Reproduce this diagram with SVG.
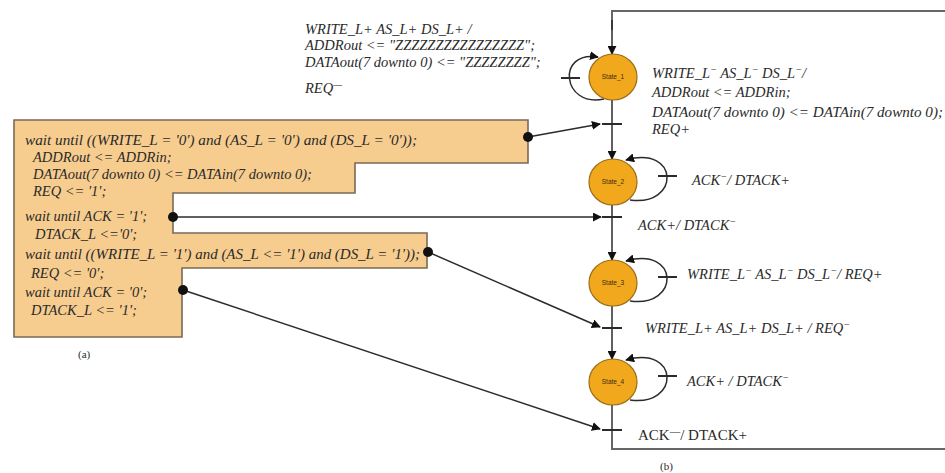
<svg xmlns="http://www.w3.org/2000/svg" width="945" height="473" viewBox="0 0 945 473">
  <style>
    .t { font-family: "Liberation Serif", "Times New Roman", serif; font-style: italic; font-size: 14.5px; fill: #2a2a2a; }
    .u { font-family: "Liberation Serif", "Times New Roman", serif; font-size: 15px; fill: #2a2a2a; }
    .cap { font-family: "Liberation Serif", "Times New Roman", serif; font-size: 11px; fill: #2a2a2a; }
    .st { font-family: "Liberation Sans", Arial, sans-serif; font-size: 6.5px; fill: #3a2a10; text-anchor: middle; }
    .state { fill: #f2a81c; stroke: #9a6d18; stroke-width: 1.2; }
    .code { fill: #f7cd8f; stroke: #7a6a55; stroke-width: 1.6; }
    .ln { fill: none; stroke: #2b2b2b; stroke-width: 1.5; }
    .frame { fill: none; stroke: #666; stroke-width: 2; }
    .tick { stroke: #2b2b2b; stroke-width: 2; }
    .dot { fill: #111; }
    .sup { font-size: 70%; }
  </style>
  <defs>
    <marker id="arr" viewBox="0 0 10 10" refX="9" refY="5" markerWidth="9" markerHeight="9" markerUnits="userSpaceOnUse" orient="auto">
      <path d="M0,0 L10,5 L0,10 z" fill="#111"/>
    </marker>
  </defs>

  <rect width="945" height="473" fill="#fff"/>

  <!-- (a) VHDL process -->
  <g id="code-block">
    <polygon class="code" points="14,120 528,120 528,163 355,163 355,193 173,193 173,233 427,233 427,268 182,268 182,337 14,337"/>
    <text class="t" x="25" y="145" textLength="392" lengthAdjust="spacingAndGlyphs">wait until ((WRITE_L = '0') and (AS_L = '0') and (DS_L = '0'));</text>
    <text class="t" x="33" y="162">ADDRout &lt;= ADDRin;</text>
    <text class="t" x="33" y="179">DATAout(7 downto 0) &lt;= DATAin(7 downto 0);</text>
    <text class="t" x="33" y="196">REQ &lt;= '1';</text>
    <text class="t" x="25" y="221">wait until ACK = '1';</text>
    <text class="t" x="35" y="239">DTACK_L &lt;='0';</text>
    <text class="t" x="25" y="259" textLength="395" lengthAdjust="spacingAndGlyphs">wait until ((WRITE_L = '1') and (AS_L &lt;= '1') and (DS_L = '1'));</text>
    <text class="t" x="31" y="278">REQ &lt;= '0';</text>
    <text class="t" x="25" y="297">wait until ACK = '0';</text>
    <text class="t" x="31" y="315">DTACK_L &lt;= '1';</text>
    <text class="cap" x="78" y="358">(a)</text>
  </g>

  <!-- connectors: frame, transitions, code-to-transition links -->
  <g id="connectors">
    <path class="frame" d="M945,11 H612 V30"/>
    <path class="frame" d="M612,405 V449 H945"/>
    <line class="ln" x1="612" y1="20" x2="612" y2="54" marker-end="url(#arr)"/>
    <line class="ln" x1="612" y1="100" x2="612" y2="159" marker-end="url(#arr)"/>
    <line class="ln" x1="612" y1="205" x2="612" y2="260" marker-end="url(#arr)"/>
    <line class="ln" x1="612" y1="306" x2="612" y2="359" marker-end="url(#arr)"/>

    <line class="tick" x1="602" y1="124" x2="622" y2="124"/>
    <line class="tick" x1="602" y1="217" x2="622" y2="217"/>
    <line class="tick" x1="602" y1="328" x2="622" y2="328"/>
    <line class="tick" x1="602" y1="430" x2="622" y2="430"/>

    <!-- self loops -->
    <path class="ln" d="M604,99 C562,108 556,50 598,57" marker-end="url(#arr)"/>
    <line class="tick" x1="561" y1="78" x2="580" y2="78"/>
    <path class="ln" d="M630,200 C680,207 680,145 626,160" marker-end="url(#arr)"/>
    <line class="tick" x1="658" y1="176" x2="677" y2="176"/>
    <path class="ln" d="M630,301 C680,308 680,246 626,261" marker-end="url(#arr)"/>
    <line class="tick" x1="658" y1="277" x2="677" y2="277"/>
    <path class="ln" d="M630,400 C680,407 680,345 626,360" marker-end="url(#arr)"/>
    <line class="tick" x1="658" y1="376" x2="677" y2="376"/>

    <!-- links from the code to the transitions -->
    <line class="ln" x1="528" y1="137" x2="600" y2="124" marker-end="url(#arr)"/>
    <line class="ln" x1="173" y1="217" x2="601" y2="217" marker-end="url(#arr)"/>
    <line class="ln" x1="428" y1="252" x2="600" y2="327" marker-end="url(#arr)"/>
    <line class="ln" x1="183" y1="290" x2="600" y2="429" marker-end="url(#arr)"/>
    <circle class="dot" cx="528" cy="137" r="5"/>
    <circle class="dot" cx="173" cy="217" r="5"/>
    <circle class="dot" cx="428" cy="252" r="5"/>
    <circle class="dot" cx="183" cy="290" r="5"/>
  </g>

  <!-- (b) state machine -->
  <g id="state-1">
    <ellipse class="state" cx="613" cy="77" rx="24" ry="23"/>
    <text class="st" x="613" y="79">State_1</text>
  </g>
  <g id="state-2">
    <ellipse class="state" cx="613" cy="182" rx="24" ry="23"/>
    <text class="st" x="613" y="184">State_2</text>
  </g>
  <g id="state-3">
    <ellipse class="state" cx="613" cy="283" rx="24" ry="23"/>
    <text class="st" x="613" y="285">State_3</text>
  </g>
  <g id="state-4">
    <ellipse class="state" cx="613" cy="382" rx="24" ry="23"/>
    <text class="st" x="613" y="384">State_4</text>
  </g>

  <!-- transition labels -->
  <g id="labels">
    <text class="t" x="305" y="34">WRITE_L+ AS_L+ DS_L+ /</text>
    <text class="t" x="305" y="50">ADDRout &lt;= "ZZZZZZZZZZZZZZZZ";</text>
    <text class="t" x="305" y="67">DATAout(7 downto 0) &lt;= "ZZZZZZZZ";</text>
    <text class="t" x="305" y="93">REQ<tspan class="sup" baseline-shift="super">—</tspan></text>

    <text class="t" x="652" y="78">WRITE_L<tspan class="sup" baseline-shift="super">−</tspan> AS_L<tspan class="sup" baseline-shift="super">−</tspan> DS_L<tspan class="sup" baseline-shift="super">−</tspan>/</text>
    <text class="t" x="652" y="97">ADDRout &lt;= ADDRin;</text>
    <text class="t" x="652" y="117" textLength="291" lengthAdjust="spacingAndGlyphs">DATAout(7 downto 0) &lt;= DATAin(7 downto 0);</text>
    <text class="t" x="652" y="134">REQ+</text>

    <text class="t" x="692" y="185">ACK<tspan class="sup" baseline-shift="super">−</tspan>/ DTACK+</text>
    <text class="t" x="638" y="230">ACK+/ DTACK<tspan class="sup" baseline-shift="super">−</tspan></text>
    <text class="t" x="687" y="279">WRITE_L<tspan class="sup" baseline-shift="super">−</tspan> AS_L<tspan class="sup" baseline-shift="super">−</tspan> DS_L<tspan class="sup" baseline-shift="super">−</tspan>/ REQ+</text>
    <text class="t" x="645" y="333">WRITE_L+ AS_L+ DS_L+ / REQ<tspan class="sup" baseline-shift="super">−</tspan></text>
    <text class="t" x="687" y="386">ACK+ / DTACK<tspan class="sup" baseline-shift="super">−</tspan></text>
    <text class="u" x="638" y="440">ACK<tspan class="sup" baseline-shift="super">—</tspan>/ DTACK+</text>
    <text class="cap" x="660" y="470">(b)</text>
  </g>
</svg>
